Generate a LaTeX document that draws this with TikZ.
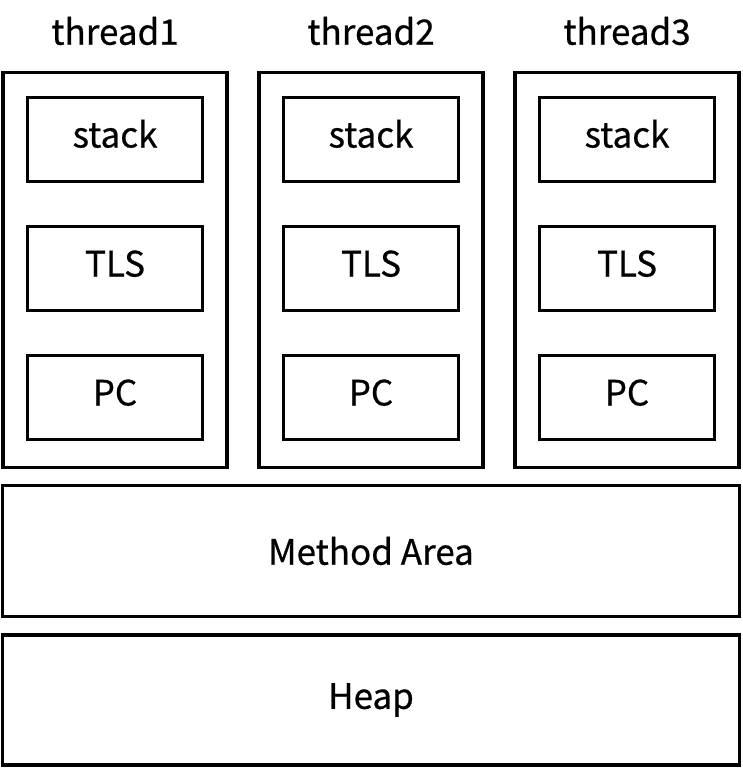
\documentclass[tikz,border=0pt]{standalone}
\usepackage{fontspec}
\setmainfont{Noto Sans CJK SC}
\newfontfamily\medfont{Noto Sans CJK SC}[FakeBold=0.6]
\usetikzlibrary{positioning}

\begin{document}
\begin{tikzpicture}[
            x=1pt, y=-1pt,
            node distance=41.5pt,
            frame/.style={
                    rectangle,
                    draw=black,
                    line width=3.5pt,
                    minimum width=224pt,
                    minimum height=395pt
                },
            part/.style={
                    rectangle,
                    draw=black,
                    line width=3.5pt,
                    minimum width=175pt,
                    minimum height=84pt,
                    text height=25pt,
                    text depth=9pt,
                    font=\medfont\fontsize{35}{40}\selectfont
                },
            area/.style={
                    rectangle,
                    draw=black,
                    line width=3.5pt,
                    minimum width=737pt,
                    font=\medfont\fontsize{35}{40}\selectfont
                },
            title/.style={
                    font=\medfont\fontsize{35}{40}\selectfont
                }
        ]
        \useasboundingbox (0,0) rectangle (742,768);

        % Threads
        \foreach \i/\x in {1/115, 2/371, 3/627} {
            \node[title] (title\i) at (\x,31) {thread\i};
            \node[frame] (thread\i) at (\x,270) {};
            \node[part] (stack\i) at (\x,139.5) {stack};
            \node[part, below=of stack\i] (tls\i) {TLS};
            \node[part, below=of tls\i] (pc\i) {PC};
        }

        % Shared areas
        \node[area, minimum height=131pt] (method) at (371,551) {Method Area};
        \node[area, minimum height=130pt] (heap) at (371,700) {Heap};

    \end{tikzpicture}
\end{document}
